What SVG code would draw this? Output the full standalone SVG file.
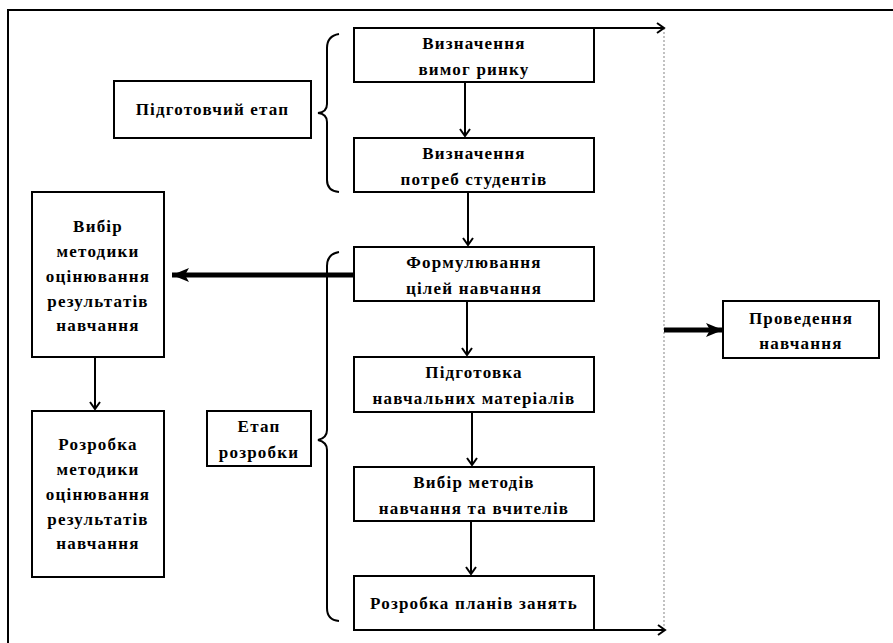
<svg xmlns="http://www.w3.org/2000/svg" width="893" height="643" viewBox="0 0 893 643">
<style>
.box{fill:#fff;stroke:#000;stroke-width:2}
text{font-family:'Liberation Serif','Times New Roman',serif;font-weight:bold;font-size:17px;text-anchor:middle;fill:#000;letter-spacing:1.2px}
.ln{stroke:#000;stroke-width:2;fill:none}
.thick{stroke:#000;stroke-width:5;fill:none}
.br{stroke:#000;stroke-width:2;fill:none}
.dot{stroke:#999;stroke-width:1.2;stroke-dasharray:2 2;fill:none}
</style>
<defs>
<marker id="ah" markerWidth="12" markerHeight="12" refX="9" refY="6" orient="auto" markerUnits="userSpaceOnUse">
<path d="M2,1 L9,6 L2,11" fill="none" stroke="#000" stroke-width="2"/>
</marker>
<marker id="ahb" markerWidth="20" markerHeight="16" refX="17" refY="8" orient="auto" markerUnits="userSpaceOnUse">
<path d="M0,1 L17,8 L0,15 L4,8 Z" fill="#000"/>
</marker>
</defs>
<rect width="893" height="643" fill="#fff"/>
<g id="frame"><path d="M8,643 V10 H893" stroke="#000" stroke-width="2" fill="none"/></g>

<g id="connectors">
<path class="dot" d="M664,28 V628"/>
<path class="ln" d="M594,28 H664" marker-end="url(#ah)"/>
<path class="ln" d="M594,630 H665" marker-end="url(#ah)"/>
<path class="ln" d="M465,82 V136" marker-end="url(#ah)"/>
<path class="ln" d="M468,192 V245" marker-end="url(#ah)"/>
<path class="ln" d="M467,301 V355" marker-end="url(#ah)"/>
<path class="ln" d="M472,412 V465" marker-end="url(#ah)"/>
<path class="ln" d="M471,521 V574" marker-end="url(#ah)"/>
<path class="ln" d="M95,357 V409" marker-end="url(#ah)"/>
<path class="thick" d="M354,275 H172" marker-end="url(#ahb)"/>
<path class="thick" d="M664,330 H723" marker-end="url(#ahb)"/>
<path class="br" d="M339,34 Q327,36 327,48 V104 Q327,112 318,113 Q327,114 327,122 V180 Q327,191 339,192"/>
<path class="br" d="M339,252 Q327,254 327,266 V430 Q327,438 318,440 Q327,442 327,450 V608 Q327,620 339,621"/>
</g>

<g id="n-pidgotovchyi"><rect class="box" x="114" y="81" width="197" height="57"/><text x="212.5" y="115">Підготовчий етап</text></g>
<g id="n-vymogy"><rect class="box" x="354" y="28" width="240" height="54"/><text x="474" y="49">Визначення</text><text x="474" y="75">вимог ринку</text></g>
<g id="n-potreby"><rect class="box" x="354" y="138" width="240" height="54"/><text x="474" y="159">Визначення</text><text x="474" y="185">потреб студентів</text></g>
<g id="n-formuliuvannia"><rect class="box" x="354" y="247" width="240" height="54"/><text x="474" y="268">Формулювання</text><text x="474" y="294">цілей навчання</text></g>
<g id="n-pidgotovka"><rect class="box" x="354" y="357" width="240" height="55"/><text x="474" y="378">Підготовка</text><text x="474" y="404">навчальних матеріалів</text></g>
<g id="n-vybir-metodiv"><rect class="box" x="354" y="467" width="240" height="54"/><text x="474" y="488">Вибір методів</text><text x="474" y="514">навчання та вчителів</text></g>
<g id="n-plany"><rect class="box" x="354" y="576" width="240" height="54"/><text x="474" y="609">Розробка планів занять</text></g>
<g id="n-etap-rozrobky"><rect class="box" x="207" y="411" width="104" height="55"/><text x="259" y="432">Етап</text><text x="259" y="458">розробки</text></g>
<g id="n-vybir-metodyky"><rect class="box" x="32" y="192" width="132" height="165"/>
<text x="98" y="232">Вибір</text><text x="98" y="257">методики</text><text x="98" y="282">оцінювання</text><text x="98" y="307">результатів</text><text x="98" y="331">навчання</text></g>
<g id="n-rozrobka-metodyky"><rect class="box" x="32" y="411" width="132" height="166"/>
<text x="98" y="450">Розробка</text><text x="98" y="475">методики</text><text x="98" y="500">оцінювання</text><text x="98" y="525">результатів</text><text x="98" y="549">навчання</text></g>
<g id="n-provedennia"><rect class="box" x="723" y="301" width="156" height="57"/><text x="801" y="324">Проведення</text><text x="801" y="349">навчання</text></g>
</svg>
